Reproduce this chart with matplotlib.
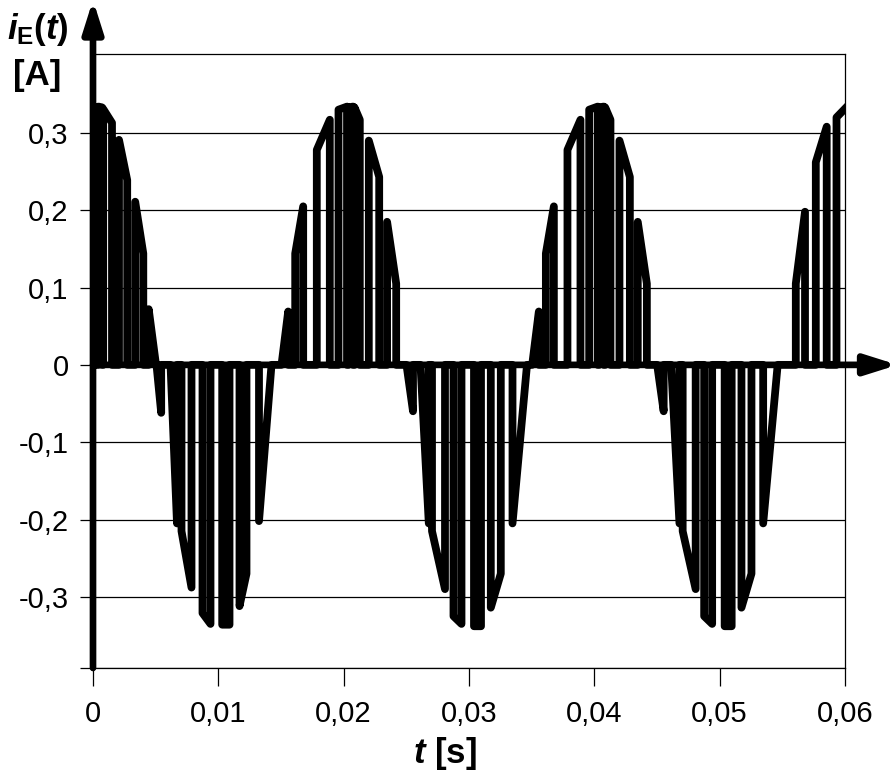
import matplotlib
matplotlib.use("Agg")
import matplotlib.pyplot as plt

plt.rcParams['font.family'] = ['Liberation Sans', 'DejaVu Sans']
plt.rcParams['mathtext.fontset'] = 'custom'
plt.rcParams['mathtext.rm'] = 'Liberation Sans:bold'
plt.rcParams['mathtext.it'] = 'Liberation Sans:italic:bold'
plt.rcParams['mathtext.bf'] = 'Liberation Sans:bold'

# impulsi della corrente i_E(t): istante di accensione / spegnimento [s]
# e valore della corrente all'accensione / allo spegnimento [A]
t_on = [0.000000, 0.000431, 0.000814, 0.002074, 0.003367, 0.004444,            # +  0 s
        0.005066, 0.006184, 0.007061, 0.008737, 0.010308, 0.011689, 0.013245,  # - 0.01 s
        0.015040, 0.016133, 0.017856, 0.019588, 0.020386, 0.020864, 0.022005, 0.023465,  # + 0.02 s
        0.025013, 0.026130, 0.027048, 0.028763, 0.030399, 0.031739, 0.033471,  # - 0.03 s
        0.035040, 0.036133, 0.037856, 0.039588, 0.040386, 0.040864, 0.042005, 0.043465,  # + 0.04 s
        0.045013, 0.046130, 0.047048, 0.048763, 0.050399, 0.051739, 0.053471,  # - 0.05 s
        0.056074, 0.057670, 0.059322]                                          # + 0.06 s
t_off = [0.000335, 0.000718, 0.001516, 0.002729, 0.004013, 0.005027,
         0.005441, 0.006702, 0.007859, 0.009375, 0.010891, 0.012247, 0.014242,
         0.015574, 0.016771, 0.018894, 0.020266, 0.020745, 0.021287, 0.022835, 0.024191,
         0.025532, 0.026792, 0.028085, 0.029401, 0.030957, 0.032537, 0.034628,
         0.035574, 0.036771, 0.038894, 0.040266, 0.040745, 0.041287, 0.042835, 0.044191,
         0.045532, 0.046792, 0.048085, 0.049401, 0.050957, 0.052537, 0.054628,
         0.056809, 0.058540, 0.060399]
i_on = [0.327, 0.334, 0.331, 0.291, 0.211, 0.072,
        0.0, 0.0, -0.215, -0.321, -0.336, -0.312, -0.202,
        0.0, 0.144, 0.278, 0.330, 0.333, 0.333, 0.290, 0.185,
        0.0, 0.0, -0.215, -0.325, -0.338, -0.314, -0.205,
        0.0, 0.144, 0.278, 0.330, 0.333, 0.333, 0.290, 0.185,
        0.0, 0.0, -0.215, -0.325, -0.338, -0.314, -0.205,
        0.105, 0.262, 0.320]
i_off = [0.333, 0.333, 0.313, 0.239, 0.144, 0.0,
         -0.062, -0.205, -0.288, -0.335, -0.336, -0.270, 0.0,
         0.069, 0.205, 0.317, 0.334, 0.334, 0.317, 0.243, 0.105,
         -0.060, -0.205, -0.290, -0.335, -0.338, -0.270, 0.0,
         0.069, 0.205, 0.317, 0.334, 0.334, 0.317, 0.243, 0.105,
         -0.060, -0.205, -0.290, -0.335, -0.338, -0.270, 0.0,
         0.198, 0.308, 0.338]

x_ticks = [0, 0.01, 0.02, 0.03, 0.04, 0.05, 0.06]
x_labels = ['0', '0,01', '0,02', '0,03', '0,04', '0,05', '0,06']
y_ticks = [-0.3, -0.2, -0.1, 0, 0.1, 0.2, 0.3]
y_labels = ['-0,3', '-0,2', '-0,1', '0', '0,1', '0,2', '0,3']

y_min, y_max = -0.392, 0.402

# forma d'onda a impulsi
t_pts, i_pts = [], []
for a, b, ia, ib in zip(t_on, t_off, i_on, i_off):
    t_pts += [a, a, b, b]
    i_pts += [0, ia, ib, 0]

fig = plt.figure(figsize=(8.93, 7.82), dpi=100)
ax = fig.add_axes([93 / 893, 1 - 668 / 782, 752 / 893, 614 / 782])

ax.plot(t_pts, i_pts, color='k', lw=5.6, solid_joinstyle='round', zorder=3)

ax.set_xlim(0, 0.06)
ax.set_ylim(y_min, y_max)
ax.set_xticks(x_ticks)
ax.set_xticklabels(x_labels)
ax.set_yticks([y_min] + y_ticks)
ax.set_yticklabels([''] + y_labels)
ax.yaxis.grid(True, color='k', lw=0.9)
ax.set_axisbelow(True)
ax.tick_params(axis='x', direction='out', length=13, width=0.9, pad=10, labelsize=21)
ax.tick_params(axis='y', direction='out', length=9.5, width=0.9, pad=8, labelsize=21)
for s in ['top', 'right', 'bottom']:
    ax.spines[s].set_linewidth(0.9)
ax.spines['left'].set_visible(False)

# assi con freccia
ax.annotate('', xy=(0, 0.472), xytext=(0, y_min), annotation_clip=False,
            arrowprops=dict(arrowstyle='-|>,head_length=0.95,head_width=0.3',
                            lw=4.8, color='k', shrinkA=0, shrinkB=0, mutation_scale=20))
ax.annotate('', xy=(0.0642, 0), xytext=(0, 0), annotation_clip=False,
            arrowprops=dict(arrowstyle='-|>,head_length=0.95,head_width=0.3',
                            lw=4.8, color='k', shrinkA=0, shrinkB=0, mutation_scale=20))

fig.text(445 / 893, 1 - 753 / 782, r'$t$ [s]', fontsize=25, fontweight='bold',
         ha='center', va='center')
fig.text(38 / 893, 1 - 30 / 782, r'$i_{\mathrm{E}}(t)$', fontsize=25,
         ha='center', va='center')
fig.text(37 / 893, 1 - 75 / 782, '[A]', fontsize=25, fontweight='bold',
         ha='center', va='center')

fig.savefig('out.png', dpi=100)
